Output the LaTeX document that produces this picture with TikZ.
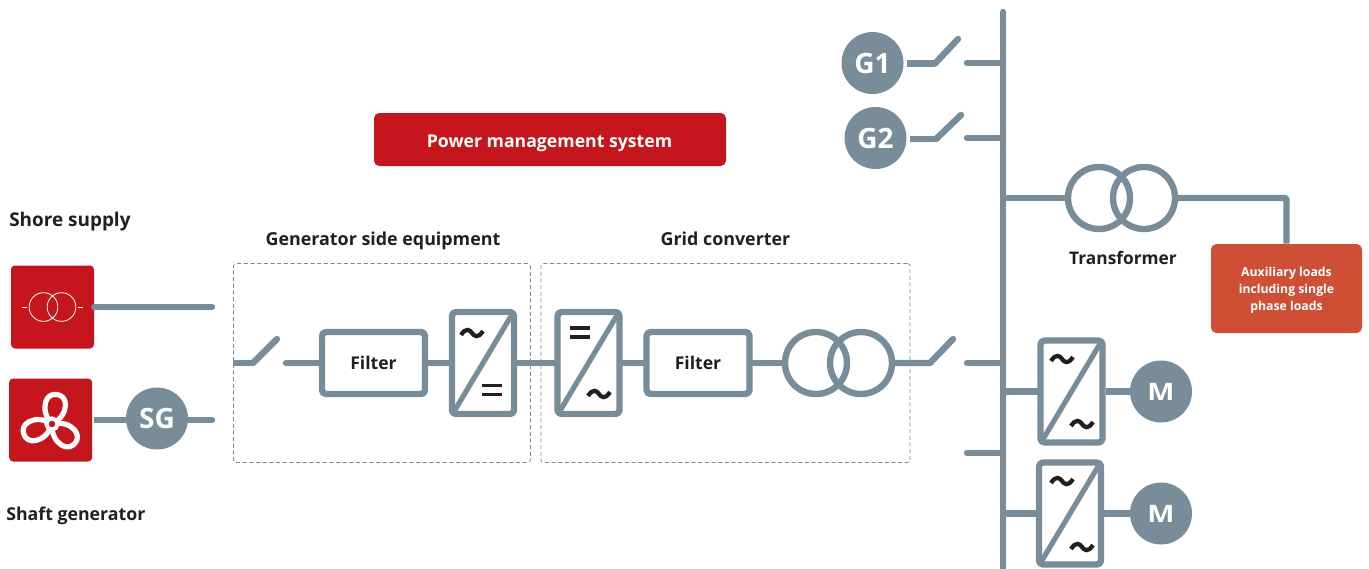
\documentclass[tikz,border=0pt]{standalone}
\usepackage{fontspec}
\setmainfont{Open Sans}
\definecolor{slate}{HTML}{788C99}
\definecolor{brandred}{HTML}{C4161C}
\definecolor{auxred}{HTML}{CE4F36}
\definecolor{inkc}{HTML}{231F20}
\tikzset{
 wire/.style={draw=slate,line width=4.8pt,line cap=round,line join=round},
 bar/.style={draw=slate,line width=4.8pt,line join=round,fill=white,rounded corners=3pt,inner sep=0pt},
 lbl/.style={font=\bfseries\fontsize{13.4}{16}\selectfont,text=inkc,inner sep=0pt,anchor=base},
 filterbox/.style={bar,minimum width=77.25pt,minimum height=46.5pt,text=inkc,font=\bfseries\fontsize{13.2}{16}\selectfont},
 convbox/.style={bar,minimum width=46.5pt,minimum height=76.5pt},
 redbox/.style={fill=brandred,rounded corners=3pt,draw=none,inner sep=0pt},
 disc/.style={circle,fill=slate,text=white,font=\bfseries\fontsize{21}{24}\selectfont,inner sep=0pt,minimum size=46.5pt},
 grp/.style={draw=slate,densely dashed,line width=0.5pt,rounded corners=2pt,inner sep=0pt,minimum height=149.25pt},
 coil/.style={circle,draw=slate,line width=4.8pt,minimum size=46.5pt,inner sep=0pt},
}
\newcommand{\wave}[2]{\draw[inkc,line width=3.2pt] (#1-11,#2+2) .. controls (#1-6,#2-6) and (#1-2,#2-3) .. (#1,#2) .. controls (#1+2,#2+3) and (#1+6,#2+6) .. (#1+11,#2-2);}
\newcommand{\equalsign}[2]{\draw[inkc,line width=2.4pt] (#1-10,#2-4.5) -- (#1+10,#2-4.5) (#1-10,#2+4.5) -- (#1+10,#2+4.5);}
\newcommand{\diag}[1]{\draw[slate,line width=3.9pt] ([shift={(3.4pt,3.4pt)}]#1.south west) -- ([shift={(-3.4pt,-3.4pt)}]#1.north east);}
\begin{document}
\begin{tikzpicture}[x=0.75pt,y=-0.75pt]
\useasboundingbox (0,0) rectangle (1369,568);
% groups
\node[grp,minimum width=222.75pt] (gse) at (382,363) {};
\node[grp,minimum width=276.75pt] (gcv) at (725.5,363) {};
\node[lbl] (gsel) at (383,245) {Generator side equipment};
\node[lbl] (gcvl) at (725.5,245) {Grid converter};
% pms
\node[redbox,rounded corners=4pt,minimum width=264pt,minimum height=39.75pt] (pms) at (550,139.5) {};
\node[lbl,text=white,font=\bfseries\fontsize{13.25}{16}\selectfont] (pmsl) at (549.5,147) {Power management system};
% left labels
\node[lbl,anchor=base west,font=\bfseries\fontsize{14.2}{16}\selectfont] (ss) at (9,226) {Shore supply};
\node[lbl,anchor=base west,font=\bfseries\fontsize{13.3}{16}\selectfont] (sg) at (6,520) {Shaft generator};
% shore icon
\node[redbox,minimum size=62.25pt] (shore) at (52.5,307) {};
\node[circle,draw=white,line width=0.6pt,minimum size=21.5pt,inner sep=0pt] (sc1) at (43.5,307) {};
\node[circle,draw=white,line width=0.6pt,minimum size=21.5pt,inner sep=0pt] (sc2) at (61.5,307) {};
\draw[white,line width=0.6pt] (22,307) -- (27,307) (78,307) -- (83,307);
\coordinate (shoreend) at (212,307);
\draw[wire] (shore.east) -- (shoreend);
% shaft icon
\node[redbox,minimum size=62.25pt] (shaft) at (50.7,420) {};
\foreach \a in {80,200,320}{
 \draw[white,line width=3.9pt,line join=round,shift={(52,424)},rotate=\a] (0,0) .. controls (6,-8) and (14,-11) .. (21,-10) .. controls (27,-9) and (30,-5) .. (30,0) .. controls (30,5) and (27,9) .. (21,10) .. controls (14,11) and (6,8) .. (0,0);
}
\draw[white,fill=brandred,line width=3pt] (52,424) circle (4.2pt);
\node[disc] (sgd) at (157,418.5) {SG};
\coordinate (sga) at (94,420);
\coordinate (sgend) at (212,420);
\draw[wire,line cap=butt] (sga) -- (sga -| sgd.west);
\draw[wire,line cap=butt] (sgend -| sgd.east) -- (sgend);
\draw[wire] (sgend) -- +(-1,0);
% generator side
\node[filterbox] (f1) at (373.5,363) {\raisebox{-0.5pt}{Filter}};
\node[convbox] (c1) at (483,363) {};
\diag{c1}
\wave{472}{333}\equalsign{492}{390}
\node[convbox] (c2) at (588.5,363) {};
\diag{c2}
\equalsign{580}{332.5}\wave{599}{394}
\coordinate (sw1a) at (233,363);
\coordinate (sw1b) at (253,363);
\coordinate (sw1c) at (277,339);
\coordinate (sw1d) at (286,363);
\draw[wire,line cap=butt] (sw1a) -- (sw1b);
\draw[wire] (sw1b) -- (sw1c);
\draw[wire] (sw1d) -- (f1.west);
\draw[wire] (f1.east) -- (c1.west);
\draw[wire] (c1.east) -- (c2.west);
% grid converter
\node[filterbox] (f2) at (698,363) {\raisebox{-0.5pt}{Filter}};
\node[coil] (t1a) at (816,363) {};
\node[coil] (t1b) at (861,363) {};
\draw[wire] (c2.east) -- (f2.west);
\draw[wire] (f2.east) -- (t1a.west);
\coordinate (sw2b) at (930,363);
\coordinate (sw2c) at (953,339);
\coordinate (sw2d) at (967,363);
\draw[wire] (t1b.east) -- (sw2b) -- (sw2c);
% bus
\coordinate (bust) at (1003,12);
\coordinate (busb) at (1003,568);
\draw[wire] (bust) -- (busb);
\draw[wire] (sw2d) -- (sw2d -| bust);
\coordinate (busjl) at (967,453);
\draw[wire] (busjl) -- (busjl -| bust);
% G1 G2
\node[disc] (g1) at (872.5,63) {G1};
\node[disc] (g2) at (875.5,138) {G2};
\coordinate (g1b) at (935,63.5);\coordinate (g1c) at (958,39);\coordinate (g1d) at (967,63);
\coordinate (g2b) at (936,139);\coordinate (g2c) at (961,115);\coordinate (g2d) at (967,138);
\coordinate (g1a) at (907,63.5);\coordinate (g2a) at (910,139);
\draw[wire,line cap=butt] (g1a) -- (g1b);
\draw[wire] (g1b) -- (g1c);
\draw[wire,line cap=butt] (g2a) -- (g2b);
\draw[wire] (g2b) -- (g2c);
\draw[wire] (g1d) -- (g1d -| bust);
\draw[wire] (g2d) -- (g2d -| bust);
% transformer
\node[coil] (t2a) at (1099,198) {};
\node[coil] (t2b) at (1144,198) {};
\node[lbl,font=\bfseries\fontsize{13}{16}\selectfont] (tl) at (1123,264) {Transformer};
\draw[wire] (t2a.west -| bust) -- (t2a.west);
\node[fill=auxred,rounded corners=4pt,minimum width=113.25pt,minimum height=66.75pt,inner sep=0pt] (aux) at (1286.5,288.5) {};
\node[inner sep=0pt,align=center,text=white,font=\bfseries\fontsize{9.2}{12.7}\selectfont] (auxl) at (1286.5,290.5) {Auxiliary loads\\including single\\phase loads};
\draw[wire,rounded corners=1pt,line cap=butt] (t2b.east) -| (aux.north);
% motors
\node[convbox] (c3) at (1071.5,391.5) {};
\diag{c3}
\wave{1062}{359}\wave{1082}{424}
\node[convbox] (c4) at (1070,513.5) {};
\diag{c4}
\wave{1062}{481}\wave{1082}{547}
\node[disc] (m1) at (1161,391.5) {\fontsize{18}{20}\selectfont\scalebox{1.2}[1]{M}};
\node[disc] (m2) at (1161,513.5) {\fontsize{18}{20}\selectfont\scalebox{1.2}[1]{M}};
\draw[wire] (c3.west -| bust) -- (c3.west);
\draw[wire] (c4.west -| bust) -- (c4.west);
\draw[wire,line cap=butt] (c3.east) -- (m1.west);
\draw[wire,line cap=butt] (c4.east) -- (m2.west);
\end{tikzpicture}
\end{document}
